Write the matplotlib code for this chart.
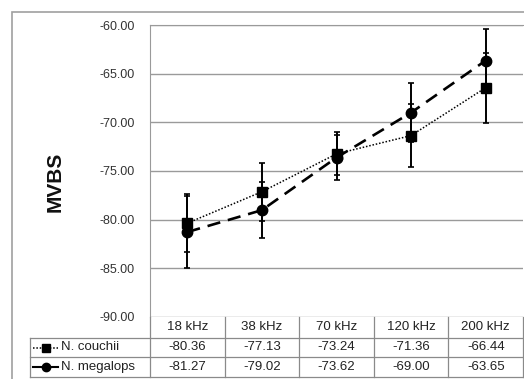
import matplotlib.pyplot as plt
from matplotlib.lines import Line2D
from matplotlib.patches import Rectangle

plt.rcParams["font.family"] = ["Liberation Sans", "DejaVu Sans"]

categories = ["18 kHz", "38 kHz", "70 kHz", "120 kHz", "200 kHz"]
couchii = [-80.36, -77.13, -73.24, -71.36, -66.44]
couchii_err = [3.0, 3.0, 2.2, 3.2, 3.6]
megalops = [-81.27, -79.02, -73.62, -69.00, -63.65]
megalops_err = [3.7, 2.9, 2.3, 3.0, 3.25]
yticks = [-90, -85, -80, -75, -70, -65, -60]

W, H = 524, 379
fig = plt.figure(figsize=(W / 100, H / 100), dpi=100)


def fx(px):
    return px / W


def fy(py):
    return 1 - py / H


# outer chart border
fig.patches.append(Rectangle((fx(12), fy(400)), fx(600), fy(12) - fy(400),
                             transform=fig.transFigure, fill=False,
                             edgecolor="#a0a0a0", linewidth=1.2))

ax_l, ax_r, ax_t, ax_b = 150, 523, 25, 317
ax = fig.add_axes([fx(ax_l), fy(ax_b), fx(ax_r - ax_l), fy(ax_t) - fy(ax_b)])

x = [i + 0.5 for i in range(len(categories))]
ax.errorbar(x, couchii, yerr=couchii_err, color="black", linestyle=(0, (1, 1.2)),
            linewidth=1.1, marker="s", markersize=7.5, capsize=2.5,
            elinewidth=1.4, capthick=1.2, zorder=3)
ax.errorbar(x, megalops, yerr=megalops_err, color="black", linestyle=(0, (5, 3)),
            linewidth=1.9, marker="o", markersize=7.5, capsize=2.5,
            elinewidth=1.4, capthick=1.2, zorder=3)

ax.set_xlim(0, len(categories))
ax.set_ylim(-90, -60)
ax.set_yticks(yticks)
ax.set_yticklabels([f"{v:.2f}" for v in yticks], fontsize=9, color="#333333")
ax.set_xticks([])
ax.grid(axis="y", color="#9a9a9a", linewidth=1.0)
ax.set_axisbelow(True)
for side in ["right", "bottom"]:
    ax.spines[side].set_visible(False)
ax.spines["left"].set_color("#9a9a9a")
ax.spines["top"].set_color("#9a9a9a")
ax.tick_params(axis="y", length=0, pad=11)
fig.text(fx(55), fy(182), "MVBS", rotation=90, ha="center", va="center",
         fontsize=15, fontweight="bold", color="#111111")

# data table under the axes
col_x = [ax_l + i * (ax_r - ax_l) / len(categories) for i in range(len(categories) + 1)]
row_y = [317, 338, 357, 377]
lc = "#8a8a8a"
for yy in row_y[1:]:
    fig.add_artist(Line2D([fx(30), fx(ax_r)], [fy(yy), fy(yy)], color=lc, lw=0.9))
fig.add_artist(Line2D([fx(30), fx(30)], [fy(row_y[1]), fy(row_y[3])], color=lc, lw=0.9))
for cx in col_x:
    fig.add_artist(Line2D([fx(cx), fx(cx)], [fy(row_y[0]), fy(row_y[3])], color=lc, lw=0.9))

for i, cat in enumerate(categories):
    cx = (col_x[i] + col_x[i + 1]) / 2
    fig.text(fx(cx), fy((row_y[0] + row_y[1]) / 2), cat, ha="center", va="center",
             fontsize=9.5, color="#222222")
    fig.text(fx(cx), fy((row_y[1] + row_y[2]) / 2), f"{couchii[i]:.2f}",
             ha="center", va="center", fontsize=9.5, color="#222222")
    fig.text(fx(cx), fy((row_y[2] + row_y[3]) / 2), f"{megalops[i]:.2f}",
             ha="center", va="center", fontsize=9.5, color="#222222")

# legend keys inside the row label cells
for r, (name, ls, lw, mk) in enumerate([("N. couchii", (0, (1, 1.2)), 1.1, "s"),
                                        ("N. megalops", "-", 1.5, "o")]):
    yy = fy((row_y[r + 1] + row_y[r + 2]) / 2)
    fig.add_artist(Line2D([fx(33), fx(58)], [yy, yy], color="black", lw=lw,
                          linestyle=ls))
    fig.add_artist(Line2D([fx(45.5)], [yy], color="black", marker=mk,
                          markersize=6, linestyle="none"))
    fig.text(fx(61), yy, name, ha="left", va="center", fontsize=9.5, color="#222222")

fig.savefig("out.png", dpi=100)
